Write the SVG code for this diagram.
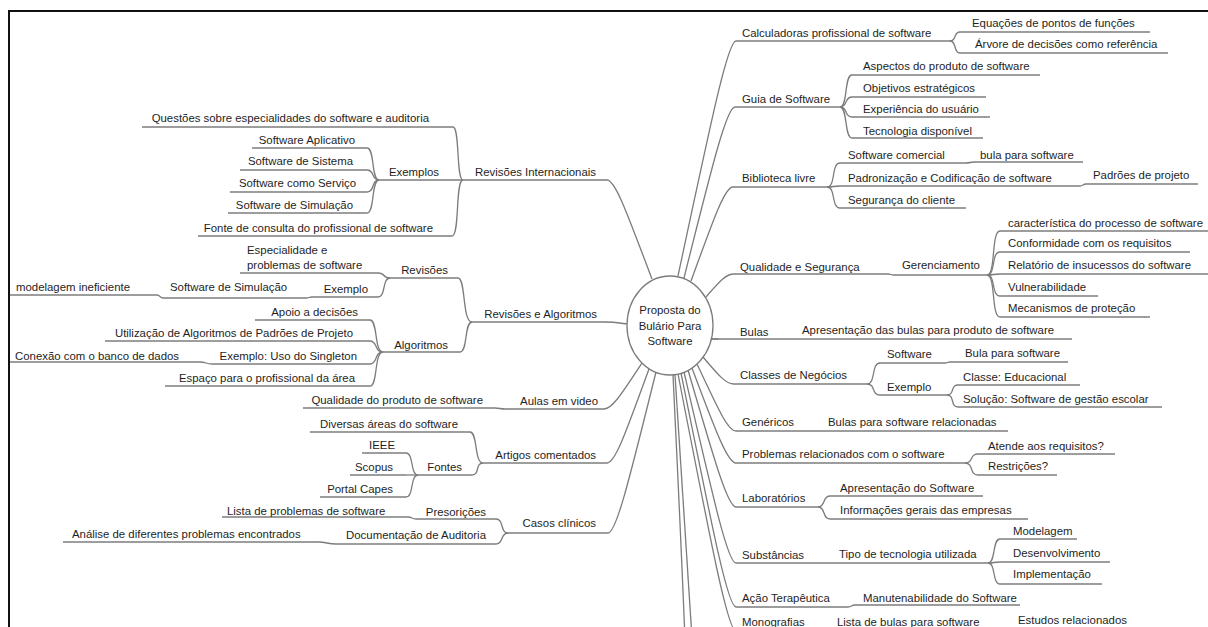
<svg xmlns="http://www.w3.org/2000/svg" width="1208" height="627" viewBox="0 0 1208 627">
  <style>
    text { font-family: "Liberation Sans", Arial, sans-serif; font-size: 11.4px; fill: #1e1e1e; }
    .e { text-anchor: end; }
    .m { text-anchor: middle; }
    .u { stroke: #7c7c7c; stroke-width: 1.3; fill: none; }
    #connectors path { stroke: #7c7c7c; stroke-width: 1.3; fill: none; }
  </style>

  <rect width="1208" height="627" fill="#ffffff"/>
  <!-- frame -->
  <path d="M9,627 V11 H1208" fill="none" stroke="#111" stroke-width="2"/>

  <!-- branch curves -->
  <g id="connectors">
    <!-- left: Revisões Internacionais -->
    <path d="M652,279 C626,210 615,180 607,180"/>
    <path d="M463,180 C456,180 460,127 453,127"/>
    <path d="M463,180 C455,180 460,236 452,236"/>
    <path d="M379,180 C371,180 375,148 367,148"/>
    <path d="M379,180 C371,180 375,170 367,170"/>
    <path d="M379,180 C371,180 375,192 367,192"/>
    <path d="M379,180 C371,180 375,213 367,213"/>
    <!-- left: Revisões e Algoritmos -->
    <path d="M627,324 C619,323 613,322 605,322"/>
    <path d="M472,322 C462,322 466,278 458,278"/>
    <path d="M472,322 C464,322 468,352 460,352"/>
    <path d="M390,278 C382,278 386,273 378,273"/>
    <path d="M390,278 C382,278 386,297 378,297"/>
    <path d="M312,297 C309,297 309,298 306,298"/>
    <path d="M163,298 C160,298 160,295 157,295"/>
    <path d="M383,352 C374,352 378,320 370,320"/>
    <path d="M383,352 C374,352 378,341 370,341"/>
    <path d="M383,352 C374,352 378,364 370,364"/>
    <path d="M383,352 C374,352 378,386 370,386"/>
    <path d="M212,364 C206,364 206,362 200,362"/>
    <!-- left: Aulas em video -->
    <path d="M642,363 C621,395 612,409 604,409"/>
    <path d="M505,409 C500,409 500,408 495,408"/>
    <!-- left: Artigos comentados -->
    <path d="M649,369 C625,435 615,463 607,463"/>
    <path d="M483,463 C474,463 478,432 470,432"/>
    <path d="M483,463 C475,463 480,475 472,475"/>
    <path d="M418,475 C410,475 414,453 406,453"/>
    <path d="M418,475 L406,475"/>
    <path d="M418,475 C410,475 414,497 406,497"/>
    <!-- left: Casos clínicos -->
    <path d="M656,372 C628,485 616,533 608,533"/>
    <path d="M508,533 C500,533 504,519 496,519"/>
    <path d="M508,533 C500,533 504,544 496,544"/>
    <path d="M416,519 C412,519 412,517 408,517"/>
    <path d="M336,544 C327,544 327,542 318,542"/>

    <!-- right: Calculadoras -->
    <path d="M678,276 C713,112 728,41 736,41"/>
    <path d="M950,41 C957,41 953,32 960,32"/>
    <path d="M950,41 C957,41 953,53 960,53"/>
    <!-- right: Guia de Software -->
    <path d="M684,278 C714,158 727,107 735,107"/>
    <path d="M840,107 C848,107 844,75 852,75"/>
    <path d="M840,107 C848,107 844,97 852,97"/>
    <path d="M840,107 C848,107 844,117 852,117"/>
    <path d="M840,107 C848,107 844,138 852,138"/>
    <!-- right: Biblioteca livre -->
    <path d="M691,281 C715,215 725,187 733,187"/>
    <path d="M827,187 C836,187 831,163 840,163"/>
    <path d="M827,187 C836,187 831,186 840,186"/>
    <path d="M827,187 C836,187 831,208 840,208"/>
    <path d="M966,163 C970,163 970,162 974,162"/>
    <path d="M1080,186 C1083,186 1083,184 1086,184"/>
    <!-- right: Qualidade e Segurança -->
    <path d="M706,297 C720,281 726,274 734,274"/>
    <path d="M888,274 C891,274 891,275 894,275"/>
    <path d="M987,275 C996,275 991,231 1000,231"/>
    <path d="M987,275 C996,275 991,252 1000,252"/>
    <path d="M987,275 C996,275 991,274 1000,274"/>
    <path d="M987,275 C996,275 991,296 1000,296"/>
    <path d="M987,275 C996,275 991,317 1000,317"/>
    <!-- right: Bulas -->
    <path d="M711,339 L718,339"/>
    <!-- right: Classes de Negócios -->
    <path d="M703,357 C719,376 726,384 734,384"/>
    <path d="M867,384 C876,384 871,363 880,363"/>
    <path d="M867,384 C876,384 871,395 880,395"/>
    <path d="M945,363 C948,363 947,362 950,362"/>
    <path d="M947,395 C955,395 950,385 958,385"/>
    <path d="M947,395 C955,395 950,407 958,407"/>
    <!-- right: Genéricos -->
    <path d="M697,364 C719,411 728,431 736,431"/>
    <!-- right: Problemas relacionados -->
    <path d="M692,368 C717,435 728,463 736,463"/>
    <path d="M965,463 C974,463 969,454 978,454"/>
    <path d="M965,463 C974,463 969,475 978,475"/>
    <!-- right: Laboratórios -->
    <path d="M688,370 C716,466 728,507 736,507"/>
    <path d="M818,507 C826,507 822,496 830,496"/>
    <path d="M818,507 C826,507 822,519 830,519"/>
    <!-- right: Substâncias -->
    <path d="M684,372 C715,506 728,563 736,563"/>
    <path d="M988,563 C996,563 992,539 1000,539"/>
    <path d="M988,563 C996,563 992,562 1000,562"/>
    <path d="M988,563 C996,563 992,584 1000,584"/>
    <!-- right: Ação Terapêutica -->
    <path d="M681,373 C714,537 728,607 736,607"/>
    <path d="M848,607 C852,607 851,605 855,605"/>
    <!-- right: Monografias and the branches below it -->
    <path d="M678,374 C713,554 728,631 736,631"/>
    <path d="M675,375 C684,500 690,600 696,700"/>
    <path d="M673,375 C679,500 684,600 688,720"/>
  </g>

  <!-- central topic -->
  <g id="root">
    <ellipse cx="670" cy="325.5" rx="43" ry="49.5" fill="#fff" stroke="#7c7c7c" stroke-width="1.3"/>
    <text class="m" x="670" y="314">Proposta do</text>
    <text class="m" x="670" y="330">Bulário Para</text>
    <text class="m" x="670" y="345">Software</text>
  </g>

  <!-- ===== left side ===== -->
  <g id="revisoes-internacionais">
    <path class="u" d="M463,180 H607"/>
    <text class="e" x="596" y="176">Revisões Internacionais</text>
  </g>
  <g id="questoes">
    <path class="u" d="M142,127 H453"/>
    <text class="e" x="429" y="122">Questões sobre especialidades do software e auditoria</text>
  </g>
  <g id="exemplos">
    <path class="u" d="M379,180 H463"/>
    <text class="e" x="439" y="176">Exemplos</text>
  </g>
  <g id="sw-aplicativo">
    <path class="u" d="M252,148 H367"/>
    <text class="e" x="355" y="144">Software Aplicativo</text>
  </g>
  <g id="sw-sistema">
    <path class="u" d="M240,170 H367"/>
    <text class="e" x="353" y="165">Software de Sistema</text>
  </g>
  <g id="sw-servico">
    <path class="u" d="M230,192 H367"/>
    <text class="e" x="356" y="187">Software como Serviço</text>
  </g>
  <g id="sw-simulacao">
    <path class="u" d="M228,213 H367"/>
    <text class="e" x="353" y="209">Software de Simulação</text>
  </g>
  <g id="fonte-consulta">
    <path class="u" d="M198,236 H452"/>
    <text class="e" x="433" y="232">Fonte de consulta do profissional de software</text>
  </g>

  <g id="revisoes-algoritmos">
    <path class="u" d="M472,322 H605"/>
    <text class="e" x="597" y="318">Revisões e Algoritmos</text>
  </g>
  <g id="revisoes">
    <path class="u" d="M390,278 H458"/>
    <text class="e" x="448" y="274">Revisões</text>
  </g>
  <g id="especialidade">
    <path class="u" d="M240,273 H378"/>
    <text x="247" y="254">Especialidade e</text>
    <text x="247" y="269">problemas de software</text>
  </g>
  <g id="exemplo-rev">
    <path class="u" d="M312,297 H378"/>
    <text class="e" x="368" y="293">Exemplo</text>
  </g>
  <g id="sw-simulacao-2">
    <path class="u" d="M163,298 H306"/>
    <text x="170" y="291">Software de Simulação</text>
  </g>
  <g id="modelagem-ineficiente">
    <path class="u" d="M10,295 H157"/>
    <text x="16" y="291">modelagem ineficiente</text>
  </g>
  <g id="algoritmos">
    <path class="u" d="M383,352 H460"/>
    <text class="e" x="448" y="349">Algoritmos</text>
  </g>
  <g id="apoio">
    <path class="u" d="M255,320 H370"/>
    <text class="e" x="358" y="316">Apoio a decisões</text>
  </g>
  <g id="utilizacao">
    <path class="u" d="M105,341 H370"/>
    <text class="e" x="353" y="337">Utilização de Algoritmos de Padrões de Projeto</text>
  </g>
  <g id="singleton">
    <path class="u" d="M212,364 H370"/>
    <text class="e" x="357" y="360">Exemplo: Uso do Singleton</text>
  </g>
  <g id="conexao">
    <path class="u" d="M10,362 H200"/>
    <text x="15" y="360">Conexão com o banco de dados</text>
  </g>
  <g id="espaco">
    <path class="u" d="M165,386 H370"/>
    <text class="e" x="355" y="382">Espaço para o profissional da área</text>
  </g>

  <g id="aulas">
    <path class="u" d="M505,409 H604"/>
    <text class="e" x="598" y="405">Aulas em video</text>
  </g>
  <g id="qualidade-produto">
    <path class="u" d="M303,408 H495"/>
    <text class="e" x="483" y="404">Qualidade do produto de software</text>
  </g>

  <g id="artigos">
    <path class="u" d="M483,463 H607"/>
    <text class="e" x="596" y="459">Artigos comentados</text>
  </g>
  <g id="diversas">
    <path class="u" d="M310,432 H470"/>
    <text class="e" x="458" y="428">Diversas áreas do software</text>
  </g>
  <g id="fontes">
    <path class="u" d="M418,475 H472"/>
    <text class="e" x="462" y="471">Fontes</text>
  </g>
  <g id="ieee">
    <path class="u" d="M362,453 H406"/>
    <text class="e" x="395" y="449">IEEE</text>
  </g>
  <g id="scopus">
    <path class="u" d="M350,475 H406"/>
    <text class="e" x="393" y="471">Scopus</text>
  </g>
  <g id="portal-capes">
    <path class="u" d="M320,497 H406"/>
    <text class="e" x="393" y="493">Portal Capes</text>
  </g>

  <g id="casos">
    <path class="u" d="M508,533 H608"/>
    <text class="e" x="596" y="527">Casos clínicos</text>
  </g>
  <g id="presoricoes">
    <path class="u" d="M416,519 H496"/>
    <text class="e" x="486" y="516">Presorições</text>
  </g>
  <g id="lista-problemas">
    <path class="u" d="M222,517 H408"/>
    <text x="227" y="515">Lista de problemas de software</text>
  </g>
  <g id="documentacao">
    <path class="u" d="M336,544 H496"/>
    <text class="e" x="486" y="539">Documentação de Auditoria</text>
  </g>
  <g id="analise">
    <path class="u" d="M63,542 H318"/>
    <text x="72" y="538">Análise de diferentes problemas encontrados</text>
  </g>

  <!-- ===== right side ===== -->
  <g id="calculadoras">
    <path class="u" d="M736,41 H950"/>
    <text x="742" y="37">Calculadoras profissional de software</text>
  </g>
  <g id="equacoes">
    <path class="u" d="M960,32 H1150"/>
    <text x="972" y="27">Equações de pontos de funções</text>
  </g>
  <g id="arvore">
    <path class="u" d="M960,53 H1168"/>
    <text x="975" y="48">Árvore de decisões como referência</text>
  </g>

  <g id="guia">
    <path class="u" d="M735,107 H840"/>
    <text x="742" y="103">Guia de Software</text>
  </g>
  <g id="aspectos">
    <path class="u" d="M852,75 H1040"/>
    <text x="863" y="70">Aspectos do produto de software</text>
  </g>
  <g id="objetivos">
    <path class="u" d="M852,97 H986"/>
    <text x="863" y="92">Objetivos estratégicos</text>
  </g>
  <g id="experiencia">
    <path class="u" d="M852,117 H990"/>
    <text x="863" y="113">Experiência do usuário</text>
  </g>
  <g id="tecnologia">
    <path class="u" d="M852,138 H983"/>
    <text x="863" y="135">Tecnologia disponível</text>
  </g>

  <g id="biblioteca">
    <path class="u" d="M733,187 H827"/>
    <text x="742" y="182">Biblioteca livre</text>
  </g>
  <g id="sw-comercial">
    <path class="u" d="M840,163 H966"/>
    <text x="848" y="159">Software comercial</text>
  </g>
  <g id="bula-sw">
    <path class="u" d="M974,162 H1083"/>
    <text x="980" y="159">bula para software</text>
  </g>
  <g id="padronizacao">
    <path class="u" d="M840,186 H1080"/>
    <text x="848" y="182">Padronização e Codificação de software</text>
  </g>
  <g id="padroes">
    <path class="u" d="M1086,184 H1198"/>
    <text x="1093" y="179">Padrões de projeto</text>
  </g>
  <g id="seguranca-cliente">
    <path class="u" d="M840,208 H966"/>
    <text x="848" y="204">Segurança do cliente</text>
  </g>

  <g id="qualidade-seguranca">
    <path class="u" d="M734,274 H888"/>
    <text x="740" y="271">Qualidade e Segurança</text>
  </g>
  <g id="gerenciamento">
    <path class="u" d="M894,275 H987"/>
    <text x="902" y="269">Gerenciamento</text>
  </g>
  <g id="caracteristica">
    <path class="u" d="M1000,231 H1208"/>
    <text x="1008" y="227">característica do processo de software</text>
  </g>
  <g id="conformidade">
    <path class="u" d="M1000,252 H1190"/>
    <text x="1008" y="247">Conformidade com os requisitos</text>
  </g>
  <g id="relatorio">
    <path class="u" d="M1000,274 H1208"/>
    <text x="1008" y="269">Relatório de insucessos do software</text>
  </g>
  <g id="vulnerabilidade">
    <path class="u" d="M1000,296 H1098"/>
    <text x="1008" y="291">Vulnerabilidade</text>
  </g>
  <g id="mecanismos">
    <path class="u" d="M1000,317 H1150"/>
    <text x="1008" y="312">Mecanismos de proteção</text>
  </g>

  <g id="bulas">
    <path class="u" d="M711,339 H1072"/>
    <text x="740" y="336">Bulas</text>
    <text x="802" y="334">Apresentação das bulas para produto de software</text>
  </g>

  <g id="classes">
    <path class="u" d="M734,384 H867"/>
    <text x="740" y="379">Classes de Negócios</text>
  </g>
  <g id="classes-software">
    <path class="u" d="M880,363 H945"/>
    <text x="887" y="358">Software</text>
  </g>
  <g id="bula-para-software">
    <path class="u" d="M950,362 H1068"/>
    <text x="965" y="357">Bula para software</text>
  </g>
  <g id="classes-exemplo">
    <path class="u" d="M880,395 H947"/>
    <text x="887" y="391">Exemplo</text>
  </g>
  <g id="classe-educacional">
    <path class="u" d="M958,385 H1080"/>
    <text x="963" y="381">Classe: Educacional</text>
  </g>
  <g id="solucao">
    <path class="u" d="M958,407 H1162"/>
    <text x="963" y="403">Solução: Software de gestão escolar</text>
  </g>

  <g id="genericos">
    <path class="u" d="M736,431 H1008"/>
    <text x="742" y="426">Genéricos</text>
    <text x="828" y="426">Bulas para software relacionadas</text>
  </g>

  <g id="problemas">
    <path class="u" d="M736,463 H965"/>
    <text x="742" y="458">Problemas relacionados com o software</text>
  </g>
  <g id="atende">
    <path class="u" d="M978,454 H1115"/>
    <text x="988" y="450">Atende aos requisitos?</text>
  </g>
  <g id="restricoes">
    <path class="u" d="M978,475 H1057"/>
    <text x="988" y="470">Restrições?</text>
  </g>

  <g id="laboratorios">
    <path class="u" d="M736,507 H818"/>
    <text x="742" y="502">Laboratórios</text>
  </g>
  <g id="apresentacao-sw">
    <path class="u" d="M830,496 H983"/>
    <text x="840" y="492">Apresentação do Software</text>
  </g>
  <g id="informacoes">
    <path class="u" d="M830,519 H1028"/>
    <text x="840" y="514">Informações gerais das empresas</text>
  </g>

  <g id="substancias">
    <path class="u" d="M736,563 H988"/>
    <text x="742" y="559">Substâncias</text>
    <text x="839" y="558">Tipo de tecnologia utilizada</text>
  </g>
  <g id="modelagem">
    <path class="u" d="M1000,539 H1077"/>
    <text x="1013" y="535">Modelagem</text>
  </g>
  <g id="desenvolvimento">
    <path class="u" d="M1000,562 H1110"/>
    <text x="1013" y="557">Desenvolvimento</text>
  </g>
  <g id="implementacao">
    <path class="u" d="M1000,584 H1102"/>
    <text x="1013" y="578">Implementação</text>
  </g>

  <g id="acao-terapeutica">
    <path class="u" d="M736,607 H848"/>
    <text x="742" y="602">Ação Terapêutica</text>
  </g>
  <g id="manutenabilidade">
    <path class="u" d="M855,605 H1020"/>
    <text x="863" y="602">Manutenabilidade do Software</text>
  </g>

  <g id="monografias">
    <path class="u" d="M736,631 H1010"/>
    <text x="742" y="626">Monografias</text>
    <text x="837" y="626">Lista de bulas para software</text>
    <text x="1018" y="624">Estudos relacionados</text>
  </g>
</svg>
